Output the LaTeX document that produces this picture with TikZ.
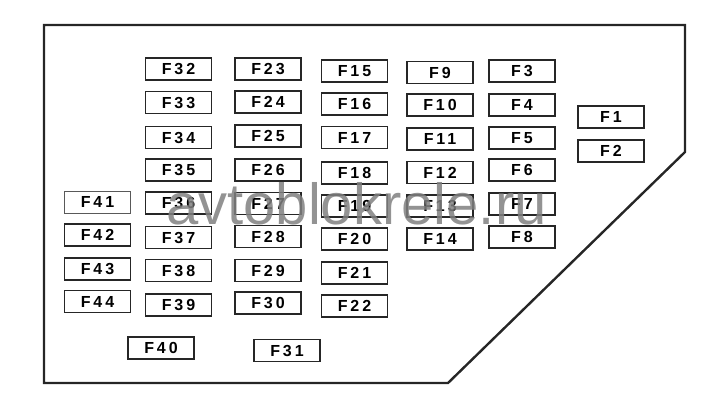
\documentclass[tikz,border=0pt]{standalone}
\usepackage{fontspec}
\setmainfont{Liberation Sans}
\newfontfamily\fusefont[LetterSpace=18]{Liberation Sans}
\begin{document}
\begin{tikzpicture}[x=1pt,y=-1pt,
  fuse/.style={draw=black!85,line width=1.3pt,minimum width=66pt,minimum height=22pt,inner sep=0pt,font=\fusefont\fontsize{16}{18}\selectfont\bfseries},
  fusethin/.style={fuse,draw=black!65,line width=0.8pt},
  outline/.style={draw=black!85,line width=2.4pt,line join=miter}]
\useasboundingbox (0,0) rectangle (706,408);
\draw[outline] (44,25) -- (685,25) -- (685,152) -- (448,383) -- (44,383) -- cycle;
% column 1
\node[fusethin] (f41) at (97.5,202) {F41};
\node[fuse] (f42) at (97.5,235) {F42};
\node[fuse] (f43) at (97.5,269) {F43};
\node[fuse] (f44) at (97.5,301.5) {F44};
% column 2
\node[fuse] (f32) at (178.5,69) {F32};
\node[fuse] (f33) at (178.5,102.5) {F33};
\node[fuse] (f34) at (178.5,137.5) {F34};
\node[fuse] (f35) at (178.5,170) {F35};
\node[fuse] (f36) at (178.5,203) {F36};
\node[fuse] (f37) at (178.5,237.5) {F37};
\node[fuse] (f38) at (178.5,270.5) {F38};
\node[fuse] (f39) at (178.5,305) {F39};
% column 3
\node[fuse] (f23) at (268,69) {F23};
\node[fuse] (f24) at (268,102) {F24};
\node[fuse] (f25) at (268,136) {F25};
\node[fuse] (f26) at (268,170) {F26};
\node[fuse] (f27) at (268,203.5) {F27};
\node[fuse] (f28) at (268,236.5) {F28};
\node[fuse] (f29) at (268,270.5) {F29};
\node[fuse] (f30) at (268,303) {F30};
% column 4
\node[fuse] (f15) at (354.5,71) {F15};
\node[fuse] (f16) at (354.5,104) {F16};
\node[fuse] (f17) at (354.5,137.5) {F17};
\node[fuse] (f18) at (354.5,173) {F18};
\node[fuse] (f19) at (354.5,206) {F19};
\node[fuse] (f20) at (354.5,239) {F20};
\node[fuse] (f21) at (354.5,273) {F21};
\node[fuse] (f22) at (354.5,306) {F22};
% column 5
\node[fuse] (f9) at (440,72.5) {F9};
\node[fuse] (f10) at (440,105) {F10};
\node[fuse] (f11) at (440,139) {F11};
\node[fuse] (f12) at (440,172.5) {F12};
\node[fuse] (f13) at (440,206) {F13};
\node[fuse] (f14) at (440,239) {F14};
% column 6
\node[fuse] (f3) at (522,71) {F3};
\node[fuse] (f4) at (522,105) {F4};
\node[fuse] (f5) at (522,138) {F5};
\node[fuse] (f6) at (522,170) {F6};
\node[fuse] (f7) at (522,204) {F7};
\node[fuse] (f8) at (522,237) {F8};
% column 7
\node[fuse] (f1) at (611,117) {F1};
\node[fuse] (f2) at (611,151) {F2};
% bottom
\node[fuse] (f40) at (161,348) {F40};
\node[fuse] (f31) at (287,350.5) {F31};
% watermark
\node[anchor=base west,inner sep=0pt,text=black!50,opacity=0.85,font=\fontsize{58}{60}\selectfont] (wm) at (166,224) {avtoblokrele.ru};
\end{tikzpicture}
\end{document}
